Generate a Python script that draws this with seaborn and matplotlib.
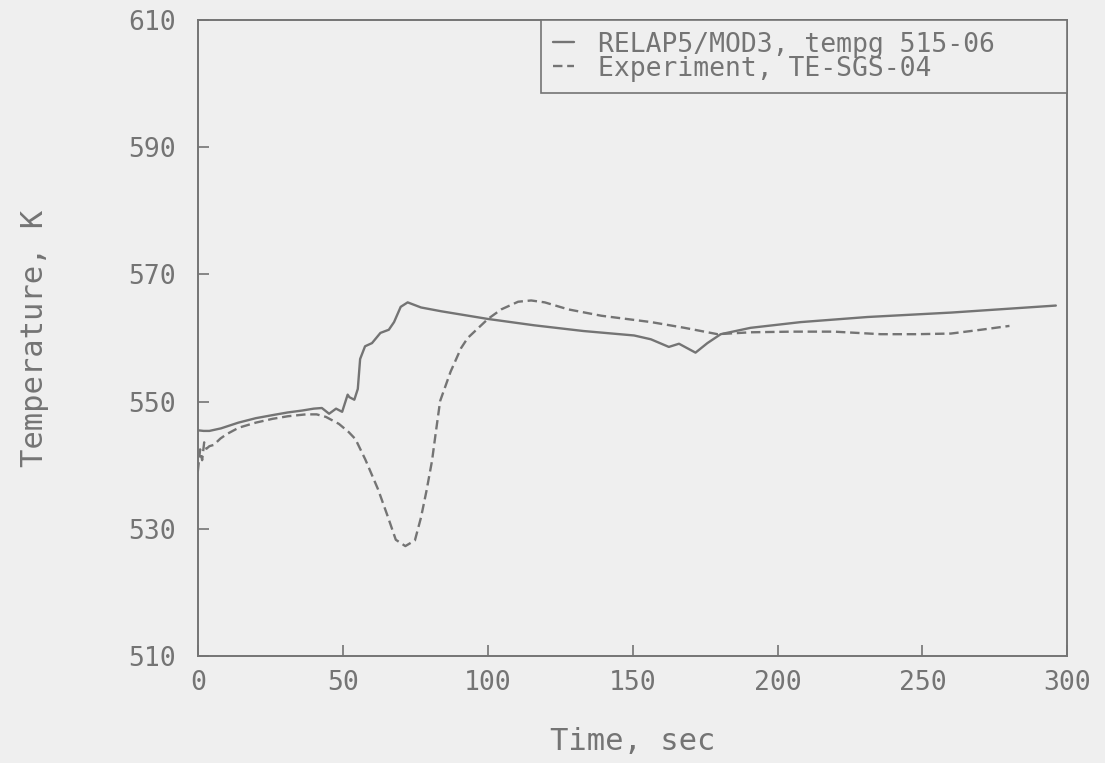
import matplotlib
matplotlib.use("Agg")
import matplotlib.pyplot as plt
import seaborn as sns
import pandas as pd

# RELAP5/MOD3 calculation (solid)
relap_t = [0, 2, 4, 8, 14, 20, 26, 31, 36, 40, 42.8, 45.3, 47.7, 49.8, 51.7, 52.3,
           54.0, 55.2, 56.0, 57.7, 60.1, 63.0, 65.9, 67.7, 70.0, 72.4, 77, 84,
           100, 116, 133, 150.5, 156.3, 162.5, 166, 171.7, 175.8, 180.4, 190.7,
           208, 231, 260, 296]
relap_T = [545.5, 545.4, 545.4, 545.8, 546.7, 547.4, 547.9, 548.3, 548.6, 548.9,
           549.0, 548.1, 548.9, 548.4, 551.1, 550.7, 550.3, 552.0, 556.7, 558.7,
           559.2, 560.8, 561.3, 562.5, 564.9, 565.6, 564.8, 564.2, 563.0, 562.0,
           561.1, 560.4, 559.8, 558.6, 559.1, 557.7, 559.2, 560.6, 561.6, 562.5,
           563.3, 564.0, 565.1]

# Experiment TE-SGS-04 (dashed)
exp_t = [0, 0.8, 1.5, 2.2, 3, 4, 5.5, 7.8, 10, 14.1, 20, 25.8, 31, 37.3, 41, 44.2,
         48.7, 52.1, 54.4, 57.8, 62.2, 65.5, 68.3, 71.6, 74.9, 77, 78.9, 80.8,
         82.0, 83.6, 87.2, 90.8, 93.1, 100.1, 104.7, 110.5, 115, 119.7, 127.8,
         139.2, 156.4, 167.9, 179.3, 190.8, 205, 219.5, 235.6, 248, 259.8, 270.2,
         280]
exp_T = [539.0, 542.5, 540.8, 543.6, 542.6, 543.0, 543.2, 544.2, 544.9, 545.9,
         546.7, 547.3, 547.7, 548.0, 548.0, 547.6, 546.5, 545.2, 544.1, 540.9,
         536.2, 532.0, 528.3, 527.3, 528.2, 531.8, 536.0, 540.7, 544.8, 550.1,
         554.7, 558.4, 560.0, 563.0, 564.5, 565.7, 565.9, 565.6, 564.5, 563.5,
         562.5, 561.6, 560.6, 560.9, 561.0, 561.0, 560.6, 560.6, 560.7, 561.3,
         561.9]

labels = ["RELAP5/MOD3, tempg 515-06", "Experiment, TE-SGS-04"]
x_ticks = [0, 50, 100, 150, 200, 250, 300]
y_ticks = [510, 530, 550, 570, 590, 610]

sns.set_theme(style="ticks")
bg = "#efefef"
ink = "#747474"
plt.rcParams["font.family"] = ["DejaVu Sans Mono", "DejaVu Sans"]
plt.rcParams["text.color"] = ink
plt.rcParams["axes.labelcolor"] = ink
plt.rcParams["xtick.color"] = ink
plt.rcParams["ytick.color"] = ink

df_r = pd.DataFrame({"t": relap_t, "T": relap_T})
df_e = pd.DataFrame({"t": exp_t, "T": exp_T})

fig = plt.figure(figsize=(11.05, 7.63), dpi=100, facecolor=bg)
ax = fig.add_axes([0.179, 0.140, 0.787, 0.834], facecolor=bg)

sns.lineplot(data=df_r, x="t", y="T", ax=ax, color=ink, linewidth=1.7,
             label=labels[0], sort=False)
sns.lineplot(data=df_e, x="t", y="T", ax=ax, color=ink, linewidth=1.7,
             dashes=False, label=labels[1], sort=False)
ax.lines[1].set_linestyle((0, (4, 2)))

ax.set_xlim(0, 300)
ax.set_ylim(510, 610)
ax.set_xticks(x_ticks)
ax.set_yticks(y_ticks)
ax.tick_params(direction="in", length=8, width=1.2, labelsize=19,
               top=False, right=False)
ax.tick_params(axis="y", pad=16)
ax.tick_params(axis="x", pad=10)
for s in ax.spines.values():
    s.set_visible(True)
    s.set_color(ink)
    s.set_linewidth(1.4)

ax.set_xlabel("Time, sec", fontsize=22, labelpad=22)
ax.set_ylabel("Temperature, K", fontsize=22, labelpad=57)

leg = ax.legend(loc="upper left", bbox_to_anchor=(0.395, 0.0, 0.605, 1.0),
                mode="expand", borderaxespad=0, fancybox=False,
                frameon=True, fontsize=19, handlelength=0.8, handletextpad=0.9,
                borderpad=0.45, labelspacing=-0.08, framealpha=1)
leg.get_frame().set_edgecolor(ink)
leg.get_frame().set_facecolor(bg)
leg.get_frame().set_linewidth(1.2)
for t in leg.get_texts():
    t.set_color(ink)

fig.savefig("out.png", dpi=100, facecolor=bg)
